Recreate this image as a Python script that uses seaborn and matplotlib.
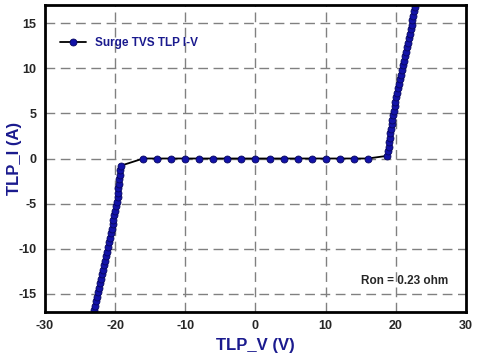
import matplotlib
matplotlib.use("Agg")
import matplotlib.pyplot as plt
import seaborn as sns
import pandas as pd

# negative snapback branch (bottom -> top)
neg_i = [-17.3, -16.8, -16.3, -15.8, -15.3, -14.8, -14.3, -13.8, -13.3, -12.8,
         -12.3, -11.8, -11.3, -10.8, -10.3, -9.8, -9.3, -8.8, -8.3, -7.8,
         -7.3, -6.8, -6.3, -5.8, -5.3, -4.8, -4.3, -3.8, -3.3, -2.8,
         -2.3, -1.8, -1.3, -0.8]
neg_v = [-23.07, -22.95, -22.82, -22.70, -22.57, -22.44, -22.30, -22.16, -22.02, -21.88,
         -21.74, -21.60, -21.46, -21.32, -21.18, -21.05, -20.91, -20.78, -20.64, -20.51,
         -20.37, -20.24, -20.10, -19.97, -19.83, -19.72, -19.66, -19.59, -19.53, -19.46,
         -19.40, -19.33, -19.27, -19.20]

# off-state leakage region
flat_v = [-16, -14, -12, -10, -8, -6, -4, -2, 0, 2, 4, 6, 8, 10, 12, 14, 16]
flat_i = [0.0] * len(flat_v)

# positive branch (bottom -> top)
pos_i = [0.3, 0.8, 1.3, 1.8, 2.3, 2.8, 3.3, 3.8, 4.3, 4.8,
         5.3, 5.8, 6.3, 6.8, 7.3, 7.8, 8.3, 8.8, 9.3, 9.8,
         10.3, 10.8, 11.3, 11.8, 12.3, 12.8, 13.3, 13.8, 14.3, 14.8,
         15.3, 15.8, 16.3, 16.8, 17.3]
pos_v = [18.80, 18.88, 18.97, 19.05, 19.14, 19.22, 19.31, 19.39, 19.48, 19.56,
         19.68, 19.81, 19.94, 20.07, 20.20, 20.33, 20.46, 20.59, 20.72, 20.85,
         20.98, 21.12, 21.26, 21.40, 21.54, 21.68, 21.82, 21.96, 22.10, 22.24,
         22.37, 22.49, 22.62, 22.74, 22.87]

df = pd.DataFrame({
    "TLP_V": neg_v + flat_v + pos_v,
    "TLP_I": neg_i + flat_i + pos_i,
})

navy = "#1a1a8e"
sns.set_style("white")
plt.rcParams["font.family"] = ["Liberation Sans", "DejaVu Sans"]
plt.rcParams["axes.unicode_minus"] = False

fig = plt.figure(figsize=(4.78, 3.57), dpi=100)
ax = fig.add_axes([0.094, 0.126, 0.881, 0.86])

sns.lineplot(data=df, x="TLP_V", y="TLP_I", sort=False, ax=ax,
             color="black", linewidth=1.3, marker="o", markersize=5,
             markerfacecolor="#1212a8", markeredgecolor="#06065e",
             markeredgewidth=0.6, label="Surge TVS TLP I-V")

ax.set_xlim(-30, 30)
ax.set_ylim(-17, 17)
ax.set_xticks([-30, -20, -10, 0, 10, 20, 30])
ax.set_yticks([-15, -10, -5, 0, 5, 10, 15])
ax.grid(True, color="#808080", linestyle=(0, (7, 4)), linewidth=1.0)
for s in ax.spines.values():
    s.set_color("black")
    s.set_linewidth(2)
ax.tick_params(length=0, labelsize=9, pad=6)
for t in ax.get_xticklabels() + ax.get_yticklabels():
    t.set_fontweight("bold")

ax.set_xlabel("TLP_V (V)", color=navy, fontsize=12, fontweight="bold", labelpad=4)
ax.set_ylabel("TLP_I (A)", color=navy, fontsize=12, fontweight="bold")
ax.yaxis.set_label_coords(-0.055, 0.5)

leg = ax.legend(loc="upper left", frameon=False, bbox_to_anchor=(0.01, 0.93),
                handlelength=2.2, prop={"weight": "bold", "size": 8.5})
for t in leg.get_texts():
    t.set_color(navy)

ax.text(15.1, -13.6, "Ron = 0.23 ohm", fontsize=8.5, fontweight="bold",
        va="center", ha="left")

fig.savefig("out.png", dpi=100)
